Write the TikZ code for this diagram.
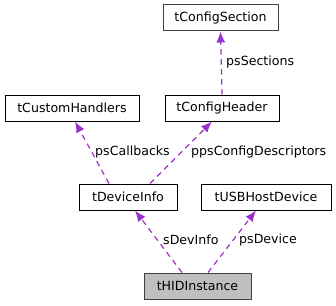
\documentclass[tikz,border=0pt]{standalone}
\usepackage{fontspec}
\setmainfont{DejaVu Sans}
\usetikzlibrary{arrows.meta}
\definecolor{edgecol}{HTML}{9A32CD}
\definecolor{boxline}{HTML}{404040}
\definecolor{boxfill}{HTML}{BFBFBF}
\tikzset{
  classbox/.style={draw=black, fill=white, line width=1pt, minimum height=26pt,
    inner sep=0pt, font=\fontsize{12.6}{15}\selectfont},
  rootbox/.style={classbox, draw=boxline, fill=boxfill},
  topbox/.style={classbox, draw=boxline},
  uses/.style={draw=edgecol, line width=1.2pt, dash pattern=on 5.5pt off 4.5pt,
    -{Latex[length=11pt,width=9pt]}},
  elabel/.style={anchor=west, inner sep=0pt, font=\fontsize{12.6}{15}\selectfont}
}
\begin{document}
\begin{tikzpicture}[x=1pt,y=-1pt]
  \useasboundingbox (0,0) rectangle (336,305);

  % class boxes
  \node[topbox, minimum width=115pt]  (sec) at (220.5,18)  {tConfigSection};
  \node[classbox, minimum width=134pt] (cbh) at (72,108)   {tCustomHandlers};
  \node[classbox, minimum width=114pt] (hdr) at (222,108)  {tConfigHeader};
  \node[classbox, minimum width=98pt]  (dev) at (128,197)  {tDeviceInfo};
  \node[classbox, minimum width=130pt] (usb) at (266,197)  {tUSBHostDevice};
  \node[rootbox, minimum width=107pt]  (hid) at (197.5,286) {tHIDInstance};

  % member references
  \draw[uses] (hdr.north) -- (sec.south);
  \draw[uses] ([xshift=-19pt]dev.north) -- ([xshift=3pt]cbh.south);
  \draw[uses] ([xshift=22pt]dev.north) -- ([xshift=-10pt]hdr.south);
  \draw[uses] ([xshift=-15.5pt]hid.north) -- ([xshift=7pt]dev.south);
  \draw[uses] ([xshift=10.5pt]hid.north) -- ([xshift=-10pt]usb.south);

  % member names
  \node[elabel] (lsec) at (226,62)  {psSections};
  \node[elabel] (lcbh) at (95,152)  {psCallbacks};
  \node[elabel] (lhdr) at (191,152) {ppsConfigDescriptors};
  \node[elabel] (ldev) at (163,240) {sDevInfo};
  \node[elabel] (lusb) at (239,240) {psDevice};
\end{tikzpicture}
\end{document}
